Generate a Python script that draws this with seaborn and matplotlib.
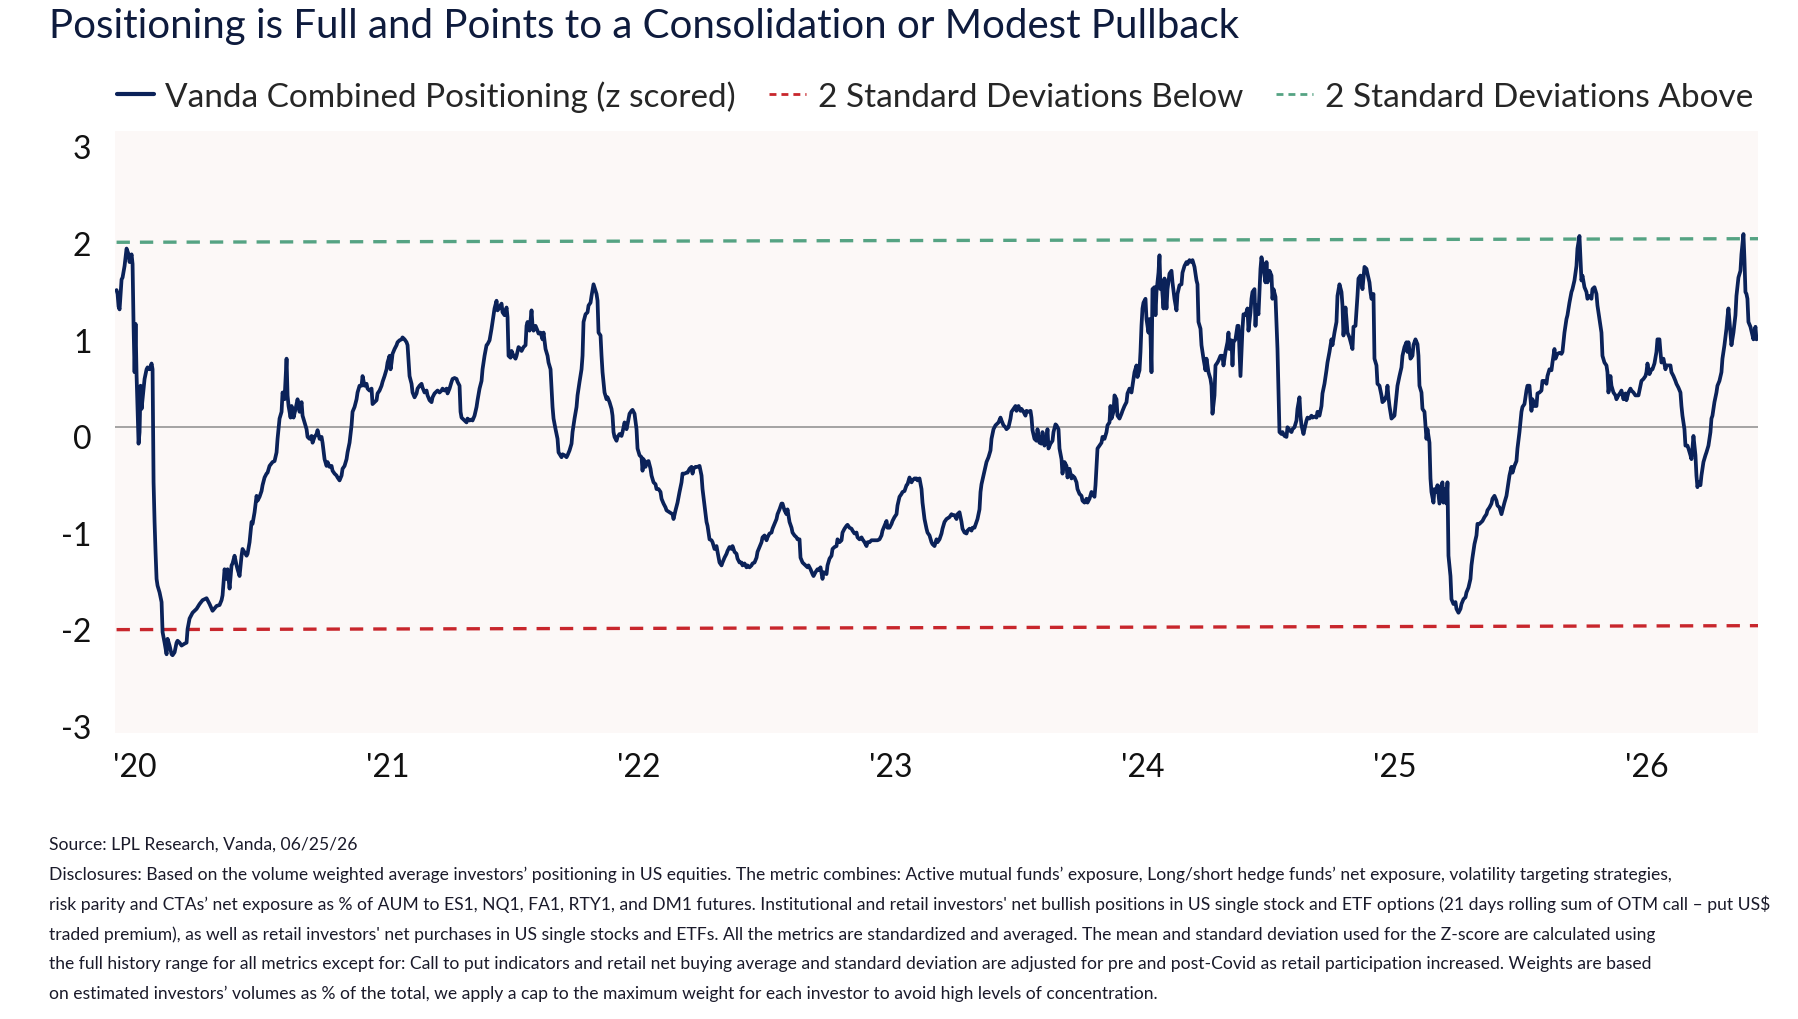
import numpy as np
import pandas as pd
import matplotlib.pyplot as plt
import matplotlib.transforms as mtransforms
from matplotlib.lines import Line2D
import seaborn as sns

# trading sessions since 2019-12-20 and the combined positioning z-score
session = [
    0, 1, 2, 3, 5, 6, 8, 10, 12, 13, 15, 16, 17, 18, 19, 20, 22, 23, 24, 25,
    26, 28, 30, 31, 33, 35, 36, 37, 38, 39, 40, 41, 43, 45, 46, 48, 50, 51, 53, 55,
    56, 58, 60, 61, 63, 65, 68, 70, 71, 73, 76, 80, 83, 86, 90, 93, 96, 100, 103, 105,
    106, 108, 110, 111, 113, 115, 116, 118, 120, 121, 123, 125, 126, 130, 131, 133, 135, 136, 138, 140,
    141, 143, 145, 146, 148, 150, 151, 153, 156, 158, 160, 161, 163, 165, 166, 168, 170, 171, 172, 174,
    175, 177, 179, 181, 183, 185, 186, 188, 190, 191, 193, 195, 196, 198, 200, 201, 203, 205, 206, 208,
    210, 211, 213, 215, 216, 218, 220, 221, 223, 225, 226, 228, 230, 231, 233, 235, 236, 238, 240, 241,
    243,
    245, 246, 248, 250, 251, 253, 255, 256, 258, 260, 261, 263, 265, 266, 268, 270, 271, 273, 274, 275,
    276, 278, 280, 281, 283, 285, 286, 288, 290, 291, 293, 295, 296, 298, 300, 301, 303, 305, 306, 308,
    310, 311, 313, 315, 316, 318, 321, 323, 325, 326, 328, 330, 331, 333, 335, 336, 338, 340, 341, 343,
    344, 345, 348, 350, 351, 353, 355, 356, 358, 360, 361, 363, 365, 366, 368, 370, 371, 373, 375, 376,
    378, 380, 381, 383, 385, 386, 388, 390, 391, 392, 394, 395, 397, 399, 400, 402, 404, 405, 407, 409,
    410, 411, 413, 415, 416, 417, 419, 421, 422, 424, 426, 427, 429, 431, 432, 434, 436, 437, 439, 441,
    442, 445, 446, 448, 450, 451, 453, 455, 456, 458, 460, 461, 463, 465, 466, 467, 469, 471, 472, 474,
    475, 477,
    480, 481, 482, 484, 485, 486, 488, 490, 491, 493, 495, 496, 497, 498, 500, 501, 503, 505, 506, 508,
    510, 511, 513, 515, 516, 518, 520, 521, 523, 525, 526, 527, 529, 530, 532, 534, 535, 537, 539, 540,
    542, 544, 545, 547, 549, 550, 553, 556, 557, 559, 561, 563, 565, 566, 568, 570, 571, 573, 575, 576,
    577, 579, 581, 583, 585, 586, 588, 590, 591, 593, 595, 596, 598, 600, 601, 603, 605, 606, 608, 610,
    611, 613, 615, 616, 618, 620, 621, 623, 625, 626, 628, 630, 631, 633, 635, 636, 638, 640, 641, 643,
    645, 646, 648, 650, 651, 653, 655, 656, 658, 660, 661, 663, 665, 666, 668, 670, 671, 673, 675, 676,
    678, 680, 681, 683, 684, 686, 687, 689, 691, 692, 694, 696, 697, 699, 701, 702, 704, 706, 707, 710,
    711, 713,
    715, 716, 718, 720, 721, 723, 725, 726, 728, 730, 731, 733, 735, 736, 738, 740, 741, 743, 745, 746,
    748, 750, 751, 753, 755, 758, 761, 763, 765, 766, 768, 770, 771, 773, 775, 776, 778, 780, 781, 783,
    785, 786, 788, 790, 791, 793, 795, 796, 798, 800, 801, 803, 805, 806, 808, 810, 811, 813, 815, 816,
    818, 820, 821, 823, 825, 826, 828, 830, 833, 835, 836, 838, 840, 841, 843, 845, 846, 848, 850, 851,
    853, 855, 856, 858, 860, 861, 863, 864, 865, 867, 869, 870, 872, 874, 875, 877, 879, 880, 882, 884,
    885, 887, 889, 890, 892, 894, 895, 897, 899, 900, 902, 904, 905, 907, 909, 910, 912, 914, 915, 916,
    918, 920, 921, 923, 925, 926, 928, 930, 931, 932, 934, 936, 937, 939, 940, 942, 943, 945, 946, 947,
    948, 950, 951, 953, 955, 956, 958, 960, 961, 963, 965, 966, 968, 970, 971, 973, 975, 976, 978, 979,
    980, 981, 983, 985, 986, 988, 990, 991, 993, 994, 995, 997, 998, 1000, 1001, 1003, 1005, 1006, 1008, 1010,
    1011, 1013, 1015, 1016, 1018, 1020, 1021, 1023, 1024, 1025, 1026, 1027, 1029, 1030, 1032, 1033, 1034, 1035, 1036, 1038,
    1039, 1040, 1042, 1043, 1044, 1045, 1047, 1048, 1050, 1051, 1053, 1055, 1056, 1058, 1060, 1061, 1063, 1065, 1066, 1068,
    1070, 1071, 1073, 1075, 1076, 1078, 1080, 1081, 1082, 1084, 1085, 1087, 1089, 1090, 1092, 1094, 1095, 1096, 1098, 1099,
    1101, 1102, 1104, 1106, 1107, 1109, 1111, 1112, 1113, 1115, 1116, 1117, 1119, 1121, 1122, 1124, 1126, 1127, 1129, 1131,
    1132, 1134, 1135, 1136, 1138, 1139, 1140, 1142, 1143, 1144, 1145, 1147, 1149, 1150, 1151, 1153, 1155, 1156, 1157, 1159,
    1160, 1161, 1162, 1163, 1165, 1166, 1168, 1170, 1171, 1173, 1175, 1176, 1178, 1180, 1181, 1183,
    1184, 1185, 1187, 1188, 1190, 1191, 1193, 1195, 1196, 1198, 1200, 1201, 1203, 1205, 1206, 1208, 1210, 1211, 1213, 1215,
    1216, 1218, 1220, 1221, 1223, 1225, 1226, 1227, 1229, 1230, 1231, 1233, 1235, 1236, 1237, 1239, 1241, 1242, 1244, 1246,
    1247, 1248, 1250, 1251, 1253, 1254, 1255, 1257, 1258, 1260, 1261, 1263, 1265, 1266, 1268, 1270, 1271, 1272, 1273, 1275,
    1276, 1278, 1280, 1281, 1283, 1285, 1286, 1288, 1290, 1291, 1292, 1294, 1296, 1297, 1299, 1301, 1302, 1303, 1305, 1306,
    1308, 1310, 1311, 1313, 1314, 1315, 1317, 1318, 1320, 1321, 1323, 1325, 1326, 1327, 1329, 1330, 1331, 1332, 1334, 1335,
    1337, 1339, 1340, 1342, 1344, 1345, 1347, 1349, 1350, 1352, 1354, 1355, 1356, 1358, 1360, 1361, 1363, 1365, 1366, 1368,
    1370, 1371, 1373, 1375, 1376, 1378, 1380, 1381, 1383, 1385, 1386, 1388, 1390, 1391, 1393, 1395, 1396, 1398, 1400, 1401,
    1403, 1405, 1406, 1408, 1410, 1411, 1413, 1415, 1416, 1418,
    1420, 1421, 1423, 1425, 1426, 1428, 1430, 1431, 1433, 1435, 1436, 1438, 1439, 1441, 1443, 1445, 1446, 1448, 1450, 1451,
    1453, 1455, 1456, 1458, 1460, 1461, 1463, 1464, 1465, 1466, 1468, 1470, 1471, 1473, 1475, 1476, 1478, 1480, 1481, 1483,
    1485, 1486, 1488, 1490, 1491, 1492, 1494, 1495, 1497, 1499, 1500, 1502, 1504, 1505, 1507, 1509, 1510, 1512, 1514, 1515,
    1517, 1519, 1520, 1522, 1524, 1525, 1527, 1529, 1530, 1531, 1533, 1535, 1536, 1538, 1540, 1541, 1543, 1544, 1545, 1547,
    1549, 1550, 1552, 1554, 1555, 1557, 1559, 1560, 1562, 1564, 1565, 1566, 1568, 1569, 1571, 1572, 1574, 1575, 1576, 1577,
    1579, 1580, 1581, 1582, 1584, 1585, 1587, 1589, 1590, 1592, 1594, 1595, 1596, 1598, 1600, 1601, 1603, 1605, 1606, 1608,
    1610, 1611, 1612, 1614, 1615, 1617, 1619, 1620, 1622, 1624, 1625, 1626, 1627, 1628, 1629, 1630, 1631, 1632, 1634, 1636,
    1637, 1638, 1639, 1640, 1642,
]
z_score = [
    1.42, 1.38, 1.25, 1.22, 1.53, 1.55, 1.67, 1.85, 1.79, 1.71, 1.79, 1.69, 1.05, 0.57, 1.07, 0.54, -0.17, -0.05, 0.43, 0.19,
    0.29, 0.50, 0.60, 0.62, 0.60, 0.66, 0.60, -0.57, -0.98, -1.30, -1.57, -1.64, -1.71, -1.81, -2.12, -2.23, -2.35, -2.19, -2.26, -2.35,
    -2.36, -2.33, -2.23, -2.21, -2.23, -2.26, -2.24, -2.23, -2.09, -1.98, -1.92, -1.88, -1.83, -1.79, -1.77, -1.83, -1.90, -1.85, -1.84, -1.79,
    -1.74, -1.47, -1.57, -1.47, -1.67, -1.43, -1.41, -1.33, -1.43, -1.47, -1.54, -1.33, -1.26, -1.33, -1.31, -1.19, -0.98, -1.00, -0.88, -0.71,
    -0.76, -0.72, -0.66, -0.60, -0.52, -0.48, -0.47, -0.40, -0.36, -0.35, -0.26, -0.12, 0.09, 0.16, 0.36, 0.29, 0.71, 0.33, 0.22, 0.10,
    0.22, 0.10, 0.19, 0.29, 0.16, 0.26, 0.12, 0.05, -0.02, -0.10, -0.12, -0.09, -0.16, -0.10, -0.07, -0.03, -0.12, -0.10, -0.16, -0.33,
    -0.40, -0.36, -0.41, -0.40, -0.45, -0.48, -0.50, -0.52, -0.55, -0.50, -0.43, -0.40, -0.33, -0.26, -0.16, 0.02, 0.16, 0.21, 0.29, 0.36,
    0.43,
    0.43, 0.53, 0.43, 0.45, 0.40, 0.38, 0.40, 0.24, 0.26, 0.28, 0.35, 0.38, 0.43, 0.47, 0.53, 0.60, 0.67, 0.74, 0.60, 0.67,
    0.76, 0.81, 0.85, 0.88, 0.90, 0.91, 0.93, 0.91, 0.88, 0.85, 0.53, 0.45, 0.36, 0.31, 0.35, 0.40, 0.43, 0.45, 0.41, 0.36,
    0.38, 0.33, 0.28, 0.26, 0.31, 0.35, 0.38, 0.36, 0.38, 0.40, 0.38, 0.40, 0.35, 0.40, 0.47, 0.50, 0.51, 0.50, 0.47, 0.43,
    0.16, 0.10, 0.07, 0.05, 0.09, 0.07, 0.08, 0.07, 0.12, 0.21, 0.28, 0.40, 0.48, 0.60, 0.74, 0.85, 0.86, 0.90, 1.02, 1.09,
    1.23, 1.31, 1.21, 1.24, 1.28, 1.19, 1.16, 1.24, 1.14, 0.74, 0.72, 0.79, 0.74, 0.71, 0.74, 0.83, 0.81, 0.79, 0.83, 0.85,
    1.05, 1.09, 1.00, 1.21, 1.05, 1.00, 1.05, 1.00, 0.97, 0.98, 0.91, 0.98, 0.81, 0.74, 0.67, 0.60, 0.21, 0.09, -0.02, -0.12,
    -0.26, -0.31, -0.28, -0.29, -0.31, -0.29, -0.24, -0.17, -0.05, 0.09, 0.21, 0.33, 0.47, 0.60, 0.74, 1.09, 1.17, 1.19, 1.26, 1.29,
    1.36, 1.48,
    1.38, 1.31, 0.98, 0.95, 0.74, 0.57, 0.36, 0.29, 0.31, 0.26, 0.19, 0.12, -0.05, -0.10, -0.14, -0.10, -0.07, -0.09, -0.05, 0.05,
    -0.02, 0.03, 0.14, 0.17, 0.18, 0.14, -0.02, -0.22, -0.29, -0.31, -0.45, -0.33, -0.41, -0.36, -0.35, -0.43, -0.50, -0.57, -0.59, -0.64,
    -0.64, -0.67, -0.74, -0.79, -0.83, -0.86, -0.88, -0.90, -0.95, -0.86, -0.78, -0.67, -0.57, -0.48, -0.48, -0.47, -0.47, -0.43, -0.41, -0.48,
    -0.43, -0.41, -0.41, -0.40, -0.50, -0.64, -0.81, -0.98, -1.02, -1.16, -1.17, -1.19, -1.26, -1.23, -1.29, -1.40, -1.43, -1.40, -1.35, -1.31,
    -1.28, -1.24, -1.26, -1.23, -1.29, -1.31, -1.36, -1.40, -1.40, -1.43, -1.41, -1.45, -1.43, -1.45, -1.43, -1.41, -1.40, -1.35, -1.29, -1.24,
    -1.19, -1.14, -1.12, -1.17, -1.14, -1.10, -1.09, -1.05, -1.00, -0.95, -0.90, -0.85, -0.79, -0.79, -0.86, -0.90, -0.85, -0.98, -1.04, -1.09,
    -1.12, -1.14, -1.16, -1.16, -1.35, -1.40, -1.41, -1.43, -1.45, -1.43, -1.47, -1.52, -1.54, -1.50, -1.47, -1.48, -1.45, -1.57, -1.50, -1.52,
    -1.43, -1.36,
    -1.33, -1.26, -1.24, -1.23, -1.16, -1.19, -1.17, -1.09, -1.05, -1.02, -1.01, -1.04, -1.05, -1.07, -1.10, -1.09, -1.14, -1.16, -1.14, -1.16,
    -1.19, -1.23, -1.19, -1.19, -1.17, -1.17, -1.17, -1.16, -1.12, -1.07, -1.02, -0.97, -1.04, -1.04, -1.00, -0.97, -0.93, -0.90, -0.81, -0.72,
    -0.69, -0.67, -0.66, -0.60, -0.59, -0.52, -0.57, -0.55, -0.53, -0.53, -0.55, -0.53, -0.64, -0.78, -0.95, -1.05, -1.09, -1.12, -1.19, -1.21,
    -1.23, -1.16, -1.19, -1.16, -1.10, -1.05, -0.98, -0.95, -0.93, -0.90, -0.91, -0.91, -0.95, -0.90, -0.88, -0.98, -1.05, -1.09, -1.10, -1.07,
    -1.05, -1.07, -1.04, -1.04, -0.98, -0.95, -0.85, -0.67, -0.59, -0.50, -0.41, -0.36, -0.31, -0.24, -0.12, -0.02, 0.02, 0.03, 0.05, 0.10,
    0.07, 0.02, 0.00, -0.02, 0.00, 0.09, 0.16, 0.19, 0.22, 0.17, 0.22, 0.17, 0.19, 0.16, 0.12, 0.17, 0.16, 0.17, 0.10, -0.03,
    -0.12, -0.14, -0.02, -0.16, -0.17, -0.05, -0.19, -0.12, -0.02, -0.22, -0.17, -0.14, -0.05, 0.03, 0.02, -0.02, -0.22, -0.33, -0.48, -0.40,
    -0.36, -0.40, -0.52, -0.43, -0.53, -0.50, -0.52, -0.57, -0.64, -0.69, -0.71, -0.76, -0.78, -0.74, -0.78, -0.74, -0.67, -0.69, -0.72, -0.60,
    -0.40, -0.22, -0.19, -0.16, -0.10, -0.12, -0.05, 0.02, 0.05, 0.22, 0.09, 0.16, 0.33, 0.29, 0.12, 0.09, 0.14, 0.17, 0.22, 0.26,
    0.35, 0.40, 0.36, 0.43, 0.57, 0.64, 0.52, 0.59, 0.78, 1.05, 1.23, 1.29, 1.33, 1.12, 0.98, 1.12, 0.95, 0.57, 1.43, 1.45,
    1.16, 1.40, 1.60, 1.78, 1.43, 1.52, 1.23, 1.54, 1.23, 1.43, 1.59, 1.62, 1.50, 1.33, 1.21, 1.38, 1.47, 1.48, 1.60, 1.67,
    1.71, 1.69, 1.73, 1.71, 1.73, 1.66, 1.52, 1.48, 1.09, 1.02, 0.85, 0.71, 0.59, 0.71, 0.57, 0.50, 0.43, 0.14, 0.33, 0.64,
    0.67, 0.69, 0.74, 0.74, 0.64, 0.78, 0.88, 0.98, 0.81, 0.90, 0.64, 0.88, 0.91, 1.05, 1.05, 0.53, 1.02, 1.17, 1.16, 1.23,
    1.00, 1.19, 1.33, 1.40, 1.43, 1.05, 1.26, 1.17, 1.40, 1.64, 1.76, 1.64, 1.50, 1.71, 1.50, 1.62, 1.57, 1.33, 1.43, 1.35,
    1.09, 0.81, 0.36, -0.05, -0.07, -0.05, -0.09, -0.10, 0.00, -0.03, -0.05, -0.02, 0.00, 0.07, 0.19, 0.31,
    0.12, 0.02, -0.07, -0.02, 0.07, 0.10, 0.09, 0.12, 0.10, 0.11, 0.10, 0.16, 0.12, 0.22, 0.35, 0.45, 0.59, 0.67, 0.78, 0.91,
    0.85, 0.98, 1.09, 1.36, 1.48, 1.40, 1.26, 0.95, 1.24, 1.12, 0.98, 0.93, 0.85, 0.81, 1.04, 1.05, 1.36, 1.54, 1.57, 1.43,
    1.55, 1.66, 1.64, 1.59, 1.50, 1.40, 1.33, 1.38, 0.71, 0.64, 0.45, 0.43, 0.33, 0.26, 0.28, 0.33, 0.43, 0.31, 0.22, 0.09,
    0.10, 0.12, 0.33, 0.43, 0.53, 0.62, 0.74, 0.83, 0.88, 0.78, 0.88, 0.71, 0.74, 0.85, 0.91, 0.86, 0.74, 0.43, 0.36, 0.19,
    0.16, -0.12, -0.02, -0.16, -0.53, -0.67, -0.78, -0.64, -0.67, -0.60, -0.79, -0.60, -0.57, -0.78, -0.64, -0.79, -0.57, -1.33, -1.54, -1.78,
    -1.83, -1.81, -1.88, -1.92, -1.88, -1.83, -1.78, -1.76, -1.71, -1.66, -1.57, -1.43, -1.35, -1.21, -1.12, -1.00, -1.00, -0.98, -0.97, -0.93,
    -0.90, -0.86, -0.83, -0.79, -0.74, -0.71, -0.76, -0.81, -0.83, -0.90, -0.86, -0.78, -0.71, -0.64, -0.50, -0.41, -0.47, -0.40, -0.35, -0.22,
    -0.05, 0.16, 0.21, 0.24, 0.38, 0.43, 0.43, 0.17, 0.29, 0.22,
    0.22, 0.35, 0.36, 0.38, 0.48, 0.48, 0.45, 0.53, 0.60, 0.59, 0.67, 0.81, 0.71, 0.76, 0.77, 0.76, 0.78, 0.98, 1.12, 1.16,
    1.29, 1.40, 1.43, 1.52, 1.67, 1.85, 1.98, 1.74, 1.52, 1.57, 1.45, 1.40, 1.33, 1.36, 1.33, 1.43, 1.45, 1.38, 1.26, 1.12,
    0.98, 0.74, 0.67, 0.64, 0.57, 0.36, 0.53, 0.43, 0.36, 0.33, 0.29, 0.33, 0.36, 0.38, 0.29, 0.35, 0.28, 0.36, 0.40, 0.38,
    0.36, 0.33, 0.33, 0.33, 0.43, 0.48, 0.50, 0.53, 0.57, 0.66, 0.55, 0.60, 0.60, 0.66, 0.78, 0.91, 0.91, 0.78, 0.67, 0.71,
    0.60, 0.64, 0.64, 0.64, 0.57, 0.53, 0.48, 0.45, 0.41, 0.36, 0.22, 0.12, -0.02, -0.19, -0.19, -0.22, -0.29, -0.33, -0.22, -0.09,
    -0.29, -0.50, -0.62, -0.57, -0.60, -0.50, -0.36, -0.29, -0.26, -0.19, -0.05, 0.09, 0.12, 0.26, 0.36, 0.43, 0.48, 0.57, 0.71, 0.85,
    1.02, 1.14, 1.23, 0.98, 0.85, 0.98, 1.16, 1.36, 1.55, 1.62, 1.79, 1.90, 2.00, 1.74, 1.40, 1.38, 1.33, 1.09, 1.04, 0.95,
    0.91, 0.98, 1.04, 0.91, 0.93,
]

# +/- 2 standard deviation bands (drift slightly over the sample)
band_session = [0, 1642]
band_above = [1.915, 1.952]
band_below = [-2.095, -2.054]

year_ticks = ['2020-01-01', '2021-01-01', '2022-01-01', '2023-01-01',
              '2024-01-01', '2025-01-01', '2026-01-01']
year_labels = ["'20", "'21", "'22", "'23", "'24", "'25", "'26"]
y_ticks = [3, 2, 1, 0, -1, -2, -3]

title = 'Positioning is Full and Points to a Consolidation or Modest Pullback'
legend_labels = ['Vanda Combined Positioning (z scored)',
                 '2 Standard Deviations Below', '2 Standard Deviations Above']
footer = [
    'Source: LPL Research, Vanda, 06/25/26',
    'Disclosures: Based on the volume weighted average investors\u2019 positioning in US equities. The metric combines: Active mutual funds\u2019 exposure, Long/short hedge funds\u2019 net exposure, volatility targeting strategies,',
    'risk parity and CTAs\u2019 net exposure as % of AUM to ES1, NQ1, FA1, RTY1, and DM1 futures. Institutional and retail investors\' net bullish positions in US single stock and ETF options (21 days rolling sum of OTM call \u2013 put US$',
    'traded premium), as well as retail investors\' net purchases in US single stocks and ETFs. All the metrics are standardized and averaged. The mean and standard deviation used for the Z-score are calculated using',
    'the full history range for all metrics except for: Call to put indicators and retail net buying average and standard deviation are adjusted for pre and post-Covid as retail participation increased. Weights are based',
    'on estimated investors\u2019 volumes as % of the total, we apply a cap to the maximum weight for each investor to avoid high levels of concentration.',
]

start = pd.Timestamp('2019-12-20')


def to_date(sessions):
    # ~252 trading sessions per calendar year
    return start + pd.to_timedelta(np.asarray(sessions) * 365.25 / 252, unit='D')


df = pd.DataFrame({'date': to_date(session), 'z': z_score})
bands = pd.DataFrame({'date': to_date(band_session), 'above': band_above, 'below': band_below})

navy = '#0B2259'
green = '#55A383'
red = '#C8262C'
ink = '#0E1B3D'

sns.set_theme(style='white')
plt.rcParams['font.family'] = ['Lato', 'DejaVu Sans']

fig = plt.figure(figsize=(17.98, 10.2), dpi=100)
ax = fig.add_axes([0.064, 0.2804, 0.914, 0.5902])
ax.set_facecolor('#FCF8F7')

ax.axhline(0, color='#8C8C8C', linewidth=1.1, zorder=1)
sns.lineplot(data=bands, x='date', y='above', ax=ax, color=green,
             linewidth=2.4, linestyle=(0, (4, 3)), zorder=2)
sns.lineplot(data=bands, x='date', y='below', ax=ax, color=red,
             linewidth=2.4, linestyle=(0, (4, 3)), zorder=2)
sns.lineplot(data=df, x='date', y='z', ax=ax, color=navy, linewidth=2.7, zorder=3)

ax.set_xlim(to_date(-1.5), to_date(session[-1]))
ax.set_ylim(-3.165, 3.067)
ax.set_xlabel('')
ax.set_ylabel('')
sns.despine(ax=ax, left=True, bottom=True)

ax.set_xticks(pd.to_datetime(year_ticks))
ax.set_xticklabels(year_labels)
ax.set_yticks(y_ticks)
ax.set_yticklabels([str(t) for t in y_ticks])
ax.tick_params(axis='both', length=0, labelsize=23, labelcolor='#111111')
ax.tick_params(axis='x', pad=14)
ax.tick_params(axis='y', pad=17)

# labels sit a little right of / below the tick positions in the original
dx = mtransforms.ScaledTranslation(0.10, 0, fig.dpi_scale_trans)
dy = mtransforms.ScaledTranslation(0, -0.09, fig.dpi_scale_trans)
for lab in ax.get_xticklabels():
    lab.set_transform(lab.get_transform() + dx)
for lab in ax.get_yticklabels():
    lab.set_transform(lab.get_transform() + dy)

handles = [
    Line2D([], [], color=navy, linewidth=3),
    Line2D([], [], color=red, linewidth=2, linestyle=(0, (2.5, 1.8))),
    Line2D([], [], color=green, linewidth=2, linestyle=(0, (2.5, 1.8))),
]
fig.legend(handles, legend_labels, loc='center', bbox_to_anchor=(0.52, 0.905),
           ncol=3, frameon=False, fontsize=24, handlelength=1.1,
           handletextpad=0.35, columnspacing=1.0)

fig.text(0.0273, 0.9627, title, fontsize=29, color=ink, va='baseline')

for i, line in enumerate(footer):
    fig.text(0.0273, 1 - (845 + 29.8 * i) / 1020, line, fontsize=12.6,
             color='#1A1A2A', va='center')

fig.savefig('out.png', dpi=100)
